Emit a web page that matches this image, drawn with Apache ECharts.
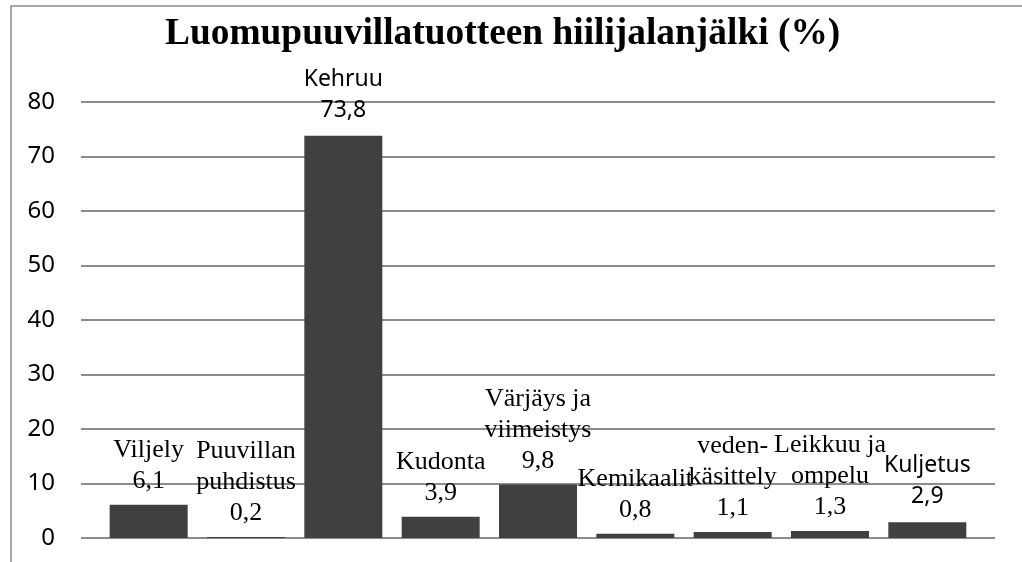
<!DOCTYPE html>
<html>
<head>
<meta charset="utf-8">
<script src="https://cdn.jsdelivr.net/npm/echarts@6/dist/echarts.min.js"></script>
<style>
  html, body { margin: 0; padding: 0; background: #fff; }
  #main { width: 1022px; height: 562px; }
</style>
</head>
<body>
<div id="main"></div>
<script>
// data
const categories = ['Viljely', 'Puuvillan puhdistus', 'Kehruu', 'Kudonta', 'Värjäys ja viimeistys',
  'Kemikaalit', 'veden-käsittely', 'Leikkuu ja ompelu', 'Kuljetus'];
const labelNames = ['Viljely', 'Puuvillan\npuhdistus', 'Kehruu', 'Kudonta', 'Värjäys ja\nviimeistys',
  'Kemikaalit', 'veden-\nkäsittely', 'Leikkuu ja\nompelu', 'Kuljetus'];
const values = [6.1, 0.2, 73.8, 3.9, 9.8, 0.8, 1.1, 1.3, 2.9];
const yTicks = [0, 10, 20, 30, 40, 50, 60, 70, 80];

// these labels came out in a sans font in the original
const sansLabels = ['Kehruu', 'Kuljetus'];

const chart = echarts.init(document.getElementById('main'), null, { renderer: 'canvas' });

const serif = '"Liberation Serif", "Times New Roman", serif';
const sans = '"Noto Sans", "Open Sans", sans-serif';

const barData = values.map((v, i) => {
  const isSans = sansLabels.indexOf(categories[i]) >= 0;
  return {
    value: v,
    label: isSans
      ? { fontFamily: sans, fontSize: 23, lineHeight: 31, distance: 10 }
      : { fontFamily: serif, fontSize: 26, lineHeight: 31, distance: 8 }
  };
});

const option = {
  backgroundColor: '#fff',
  animation: false,
  title: {
    text: 'Luomupuuvillatuotteen hiilijalanjälki (%)',
    left: 160,
    top: 11,
    textStyle: { fontFamily: serif, fontWeight: 'bold', fontSize: 37.4, color: '#000' }
  },
  graphic: [{
    type: 'polyline',
    shape: { points: [[11, 600], [11, 6], [1040, 6]] },
    style: { stroke: '#8c8c8c', lineWidth: 1.5, fill: null }
  }],
  grid: [
    { left: 81, right: 27, top: 102, bottom: 24 },
    { left: 100, right: 46, top: 102, bottom: 24 }
  ],
  xAxis: [
    { type: 'category', gridIndex: 0, data: categories, show: false },
    { type: 'category', gridIndex: 1, data: categories, show: false }
  ],
  yAxis: [
    {
      type: 'value', gridIndex: 0, min: yTicks[0], max: yTicks[yTicks.length - 1], interval: 10,
      axisLine: { show: false }, axisTick: { show: false },
      axisLabel: { fontFamily: sans, fontSize: 24, color: '#000', margin: 26 },
      splitLine: { lineStyle: { color: '#8c8c8c', width: 2 } }
    },
    {
      type: 'value', gridIndex: 1, min: 0, max: 80, interval: 10, show: false,
      splitLine: { show: false }
    }
  ],
  series: [{
    type: 'bar',
    xAxisIndex: 1,
    yAxisIndex: 1,
    data: barData,
    barWidth: 78,
    itemStyle: { color: '#404040' },
    label: {
      show: true,
      position: 'top',
      color: '#000',
      formatter: p => labelNames[p.dataIndex] + '\n' + String(p.value).replace('.', ',')
    }
  }]
};

chart.setOption(option);
</script>
</body>
</html>
